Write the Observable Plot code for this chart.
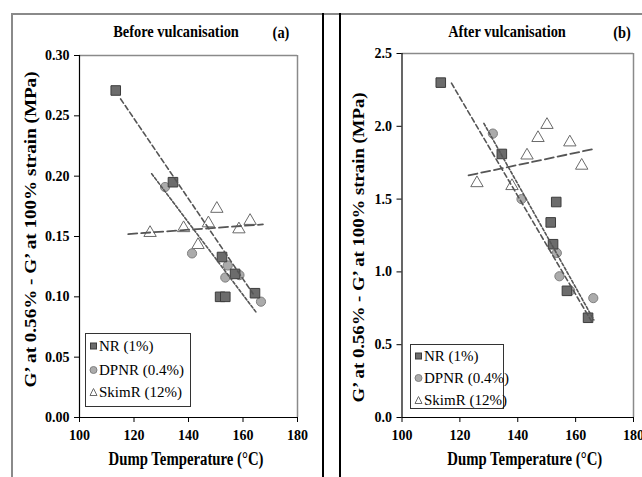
<!DOCTYPE html>
<html><head><meta charset="utf-8">
<script src="https://cdn.jsdelivr.net/npm/d3@7"></script>
<script src="https://cdn.jsdelivr.net/npm/@observablehq/plot@0.6"></script>
<style>
body{margin:0;background:#fff;}
#wrap{position:relative;width:642px;height:477px;overflow:hidden;font-family:'Liberation Serif';background:#fff;}
.ln{position:absolute;}
.ttl{position:absolute;transform:translate(-50%,-50%) scaleX(0.9);font-weight:bold;font-size:16px;white-space:nowrap;font-family:'Liberation Serif';}
.leg{position:absolute;border:1.5px solid #333;background:#fff;font-size:15px;font-family:'Liberation Serif';}
.leg .row{position:absolute;left:3px;white-space:nowrap;display:flex;align-items:center;transform:translateY(-50%);}
.leg svg{margin-right:1px;}
.panel{position:absolute;top:0;}
svg text{font-family:'Liberation Serif';}
</style></head><body><div id="wrap"></div>
<script>
// ---------- data ----------
const seriesNames = ["NR (1%)", "DPNR (0.4%)", "SkimR (12%)"];
const xTicks = [100, 120, 140, 160, 180];
const xTitle = "Dump Temperature (°C)";
const yTitle = "G’ at 0.56% - G’ at 100% strain (MPa)";
const panelTitles = ["Before vulcanisation", "After vulcanisation"];
const panelTags = ["(a)", "(b)"];

// (a) Before vulcanisation
const beforeYTicks = [0, 0.05, 0.10, 0.15, 0.20, 0.25, 0.30];
const beforeNR_T = [113.3, 134.3, 152.3, 157.1, 151.6, 153.5, 164.4];
const beforeNR_G = [0.271, 0.195, 0.133, 0.119, 0.100, 0.100, 0.103];
const beforeDPNR_T = [131.4, 141.3, 154.4, 153.5, 158.7, 166.6];
const beforeDPNR_G = [0.191, 0.136, 0.126, 0.116, 0.118, 0.096];
const beforeSkim_T = [125.9, 138.2, 143.5, 147.3, 150.4, 158.5, 162.6];
const beforeSkim_G = [0.153, 0.157, 0.143, 0.161, 0.173, 0.156, 0.163];
const beforeTrendNR_T = [115.1, 163.7];
const beforeTrendNR_G = [0.264, 0.1025];
const beforeTrendDPNR_T = [126.5, 164.9];
const beforeTrendDPNR_G = [0.202, 0.087];
const beforeTrendSkim_T = [117.9, 167.3];
const beforeTrendSkim_G = [0.152, 0.160];

// (b) After vulcanisation
const afterYTicks = [0, 0.5, 1.0, 1.5, 2.0, 2.5];
const afterNR_T = [113.4, 134.5, 153.3, 151.4, 152.2, 157.0, 164.3];
const afterNR_G = [2.30, 1.81, 1.48, 1.34, 1.19, 0.87, 0.685];
const afterDPNR_T = [131.4, 141.3, 153.5, 154.4, 158.1, 166.1];
const afterDPNR_G = [1.95, 1.50, 1.13, 0.97, 0.87, 0.82];
const afterSkim_T = [125.9, 138.0, 143.2, 147.0, 150.1, 158.0, 162.1];
const afterSkim_G = [1.61, 1.59, 1.80, 1.92, 2.01, 1.89, 1.73];
const afterTrendNR_T = [117.1, 165.5];
const afterTrendNR_G = [2.296, 0.66];
const afterTrendDPNR_T = [128.3, 166.3];
const afterTrendDPNR_G = [2.02, 0.67];
const afterTrendSkim_T = [123.0, 166.7];
const afterTrendSkim_G = [1.663, 1.846];

// ---------- helpers ----------
const zip = (T, G) => T.map((t, i) => ({T: t, G: G[i]}));
const FONT = "'Liberation Serif'";

function panel(o) {
  const svg = Plot.plot({
    width: o.width, height: 477,
    marginLeft: o.ml, marginRight: o.mr, marginTop: o.mt, marginBottom: o.mb,
    style: {fontFamily: FONT, fontSize: "14px", fontWeight: "bold", color: "#000", background: "transparent", overflow: "visible"},
    x: {domain: [100, 180]},
    y: {domain: [0, o.yTicks[o.yTicks.length - 1]]},
    marks: [
      Plot.ruleY([o.yTicks[o.yTicks.length - 1]], {stroke: "#8a8a8a", strokeWidth: 1.5}),
      Plot.ruleX([180], {stroke: "#8a8a8a", strokeWidth: 1.5}),
      Plot.axisX({ticks: xTicks, tickSize: 5, tickPadding: 8, tickFormat: d3.format("d"), label: null, stroke: "#000", fontSize: 14}),
      Plot.axisY({ticks: o.yTicks, tickSize: 5, tickPadding: 5, tickFormat: d3.format(o.fmt), label: null, stroke: "#000", fontSize: 14}),
      Plot.ruleY([0], {stroke: "#000", strokeWidth: 1.2}),
      Plot.ruleX([100], {stroke: "#000", strokeWidth: 1.2}),
      Plot.dot(o.sk, {x: "T", y: "G", symbol: "triangle", r: 4.6, fill: "#fff", stroke: "#6a6a6a", strokeWidth: 1}),
      Plot.dot(o.dp, {x: "T", y: "G", symbol: "circle", r: 4.6, fill: "#ababab", stroke: "#808080", strokeWidth: 1}),
      Plot.dot(o.nr, {x: "T", y: "G", symbol: "square", r: 5.4, fill: "#6c6c6c", stroke: "#3c3c3c", strokeWidth: 1}),
      Plot.line(o.tNR, {x: "T", y: "G", stroke: "#555", strokeWidth: 1.6, strokeDasharray: "5,3"}),
      Plot.line(o.tDP, {x: "T", y: "G", stroke: "#555", strokeWidth: 1.6, strokeDasharray: "3,2"}),
      Plot.line(o.tSK, {x: "T", y: "G", stroke: "#555", strokeWidth: 1.8, strokeDasharray: "9,4"}),
      Plot.text([xTitle], {frameAnchor: "bottom", textAnchor: "middle", dx: o.xtdx, dy: 47, fontSize: 18, fontWeight: "bold", fill: "#000"}),
      Plot.text([yTitle], {frameAnchor: "left", textAnchor: "middle", rotate: -90, dx: o.ytdx, dy: o.ytdy, fontSize: 17, fontWeight: "bold", fill: "#000"})
    ]
  });
  // fit the condensed titles to the reference's lengths
  for (const t of svg.querySelectorAll("text")) {
    if (t.textContent === yTitle) { t.setAttribute("textLength", o.yLen); t.setAttribute("lengthAdjust", "spacingAndGlyphs"); }
    if (t.textContent === xTitle) { t.setAttribute("textLength", 155); t.setAttribute("lengthAdjust", "spacingAndGlyphs"); }
  }
  return svg;
}

const wrap = document.getElementById("wrap");
function addDiv(cls, css, html) {
  const d = document.createElement("div");
  d.className = cls; d.style.cssText = css; if (html != null) d.innerHTML = html;
  wrap.appendChild(d); return d;
}

// frame lines
addDiv("ln", "left:12px;top:13px;width:630px;height:2px;background:#8a8a8a;");
addDiv("ln", "left:11px;top:13px;width:2px;height:464px;background:#8a8a8a;");
addDiv("ln", "left:322px;top:13px;width:1.5px;height:464px;background:#000;");
addDiv("ln", "left:339px;top:13px;width:1.5px;height:464px;background:#000;");

const left = panel({
  width: 320, ml: 79, mr: 23, mt: 55, mb: 60, yTicks: beforeYTicks, fmt: ".2f",
  nr: zip(beforeNR_T, beforeNR_G), dp: zip(beforeDPNR_T, beforeDPNR_G), sk: zip(beforeSkim_T, beforeSkim_G),
  tNR: zip(beforeTrendNR_T, beforeTrendNR_G), tDP: zip(beforeTrendDPNR_T, beforeTrendDPNR_G), tSK: zip(beforeTrendSkim_T, beforeTrendSkim_G),
  xtdx: -2.5, ytdx: -49, ytdy: -7, yLen: 316
});
left.classList.add("panel"); left.style.left = "0px";
wrap.appendChild(left);

const right = panel({
  width: 302, ml: 61.5, mr: 9, mt: 53, mb: 60, yTicks: afterYTicks, fmt: ".1f",
  nr: zip(afterNR_T, afterNR_G), dp: zip(afterDPNR_T, afterDPNR_G), sk: zip(afterSkim_T, afterSkim_G),
  tNR: zip(afterTrendNR_T, afterTrendNR_G), tDP: zip(afterTrendDPNR_T, afterTrendDPNR_G), tSK: zip(afterTrendSkim_T, afterTrendSkim_G),
  xtdx: 7, ytdx: -43.5, ytdy: 12, yLen: 310
});
right.classList.add("panel"); right.style.left = "340px";
wrap.appendChild(right);

// titles
addDiv("ttl", "left:176px;top:32px;", panelTitles[0]);
addDiv("ttl", "left:281px;top:33px;", panelTags[0]);
addDiv("ttl", "left:507px;top:32px;", panelTitles[1]);
addDiv("ttl", "left:622px;top:33px;", panelTags[1]);

// legends
const symSvg = [
  '<svg width="9" height="9"><rect x="1.5" y="1.5" width="6" height="6" fill="#6c6c6c" stroke="#3c3c3c" stroke-width="1"/></svg>',
  '<svg width="9" height="9"><circle cx="4.5" cy="4.5" r="3.5" fill="#ababab" stroke="#808080" stroke-width="1"/></svg>',
  '<svg width="9" height="9"><path d="M4.5,1 L8,8 L1,8 Z" fill="#fff" stroke="#6a6a6a" stroke-width="1"/></svg>'
];
function legend(x, y, w, h, rowsY) {
  const box = addDiv("leg", `left:${x}px;top:${y}px;width:${w}px;height:${h}px;`);
  seriesNames.forEach((s, i) => {
    const r = document.createElement("div");
    r.className = "row"; r.style.top = rowsY[i] + "px";
    r.innerHTML = symSvg[i] + "<span>" + s + "</span>";
    box.appendChild(r);
  });
}
legend(85, 333, 104, 72, [12, 36, 58]);
legend(410, 344, 92, 63, [11, 33, 55]);
</script></body></html>
